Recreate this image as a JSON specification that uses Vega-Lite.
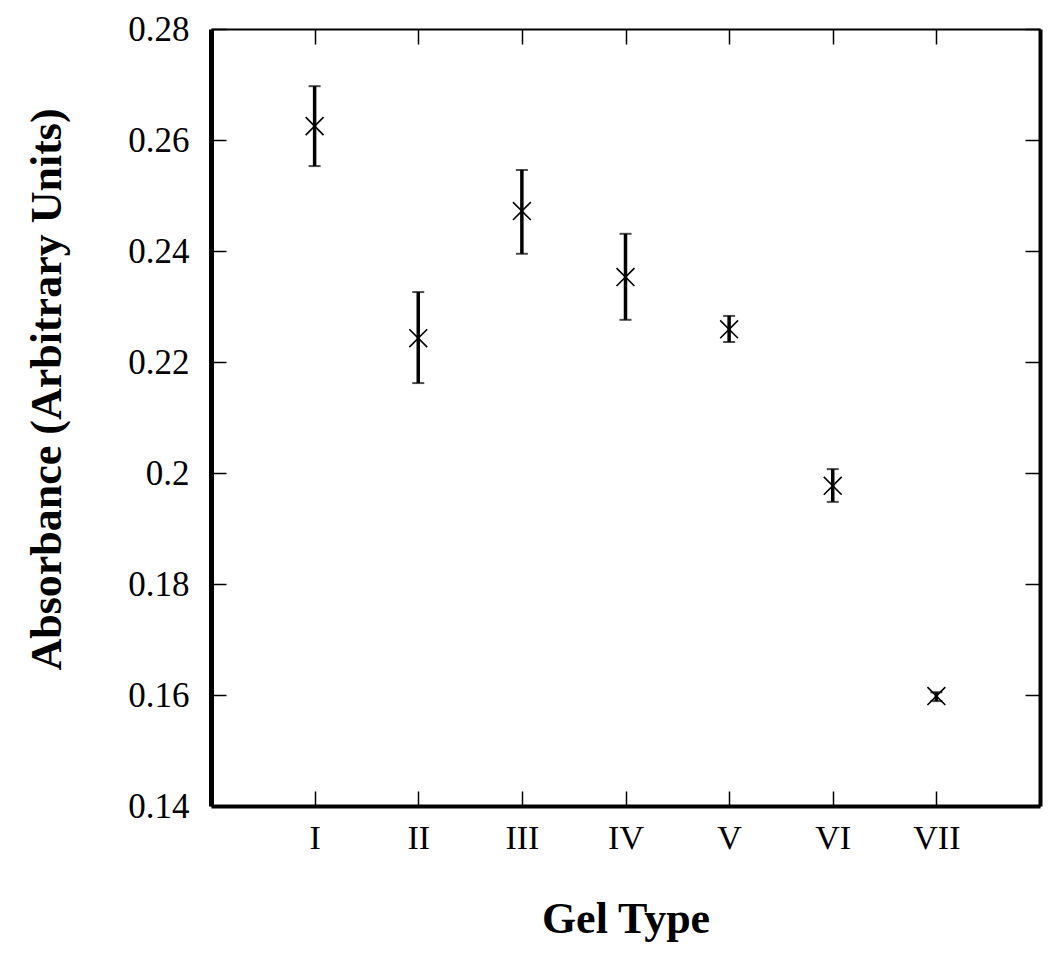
{
  "$schema": "https://vega.github.io/schema/vega-lite/v6.json",
  "autosize": "none",
  "padding": {"left": 211, "top": 29, "right": 10, "bottom": 148},
  "width": 829,
  "height": 777,
  "background": "white",
  "config": {
    "view": {"stroke": null},
    "font": "Liberation Serif",
    "axis": {
      "labelFont": "Liberation Serif",
      "titleFont": "Liberation Serif",
      "labelColor": "black",
      "titleColor": "black",
      "domainColor": "black",
      "tickColor": "black",
      "grid": false
    }
  },
  "data": {
    "values": [
      {"gel": "I", "mean": 0.2625, "lo": 0.2553, "hi": 0.2697},
      {"gel": "II", "mean": 0.2243, "lo": 0.2162, "hi": 0.2326},
      {"gel": "III", "mean": 0.2472, "lo": 0.2395, "hi": 0.2546},
      {"gel": "IV", "mean": 0.2353, "lo": 0.2276, "hi": 0.2431},
      {"gel": "V", "mean": 0.2259, "lo": 0.2236, "hi": 0.2283},
      {"gel": "VI", "mean": 0.1977, "lo": 0.1948, "hi": 0.2007},
      {"gel": "VII", "mean": 0.1598, "lo": 0.1589, "hi": 0.1605}
    ]
  },
  "resolve": {"axis": {"x": "independent", "y": "independent"}},
  "layer": [
    {
      "mark": {"type": "rule", "color": "black", "strokeWidth": 3.5},
      "encoding": {
        "x": {
          "field": "gel", "type": "nominal", "sort": null,
          "scale": {"type": "point", "padding": 1},
          "axis": {
            "orient": "bottom", "title": "Gel Type", "labelAngle": 0,
            "labelFontSize": 34, "titleFontSize": 44, "titleFontWeight": "bold",
            "domainWidth": 4, "tickSize": -15, "tickWidth": 1.5,
            "labelPadding": 30, "titlePadding": 42
          }
        },
        "y": {
          "field": "lo", "type": "quantitative",
          "scale": {"domain": [0.14, 0.28], "nice": false, "zero": false},
          "axis": {
            "orient": "left", "title": "Absorbance (Arbitrary Units)",
            "values": [0.14, 0.16, 0.18, 0.2, 0.22, 0.24, 0.26, 0.28],
            "format": ".2~f",
            "labelFontSize": 35, "titleFontSize": 44, "titleFontWeight": "bold",
            "domainWidth": 5, "tickSize": -15, "tickWidth": 1.5,
            "labelPadding": 37, "titlePadding": 58, "titleY": 360
          }
        },
        "y2": {"field": "hi"}
      }
    },
    {
      "mark": {"type": "tick", "color": "black", "size": 12, "thickness": 2},
      "encoding": {
        "x": {"field": "gel", "type": "nominal", "sort": null, "axis": null},
        "y": {"field": "hi", "type": "quantitative", "axis": null}
      }
    },
    {
      "mark": {"type": "tick", "color": "black", "size": 12, "thickness": 2},
      "encoding": {
        "x": {"field": "gel", "type": "nominal", "sort": null, "axis": null},
        "y": {"field": "lo", "type": "quantitative", "axis": null}
      }
    },
    {
      "mark": {
        "type": "point", "shape": "M-1,-1L1,1M-1,1L1,-1", "size": 320,
        "filled": false, "color": "black", "strokeWidth": 1.6, "opacity": 1
      },
      "encoding": {
        "x": {
          "field": "gel", "type": "nominal", "sort": null,
          "axis": {
            "orient": "top", "title": null, "labels": false,
            "domainWidth": 2, "tickSize": -15, "tickWidth": 1.5
          }
        },
        "y": {
          "field": "mean", "type": "quantitative",
          "axis": {
            "orient": "right", "title": null, "labels": false,
            "values": [0.14, 0.16, 0.18, 0.2, 0.22, 0.24, 0.26, 0.28],
            "domainWidth": 4, "tickSize": -15, "tickWidth": 1.5
          }
        }
      }
    }
  ]
}
